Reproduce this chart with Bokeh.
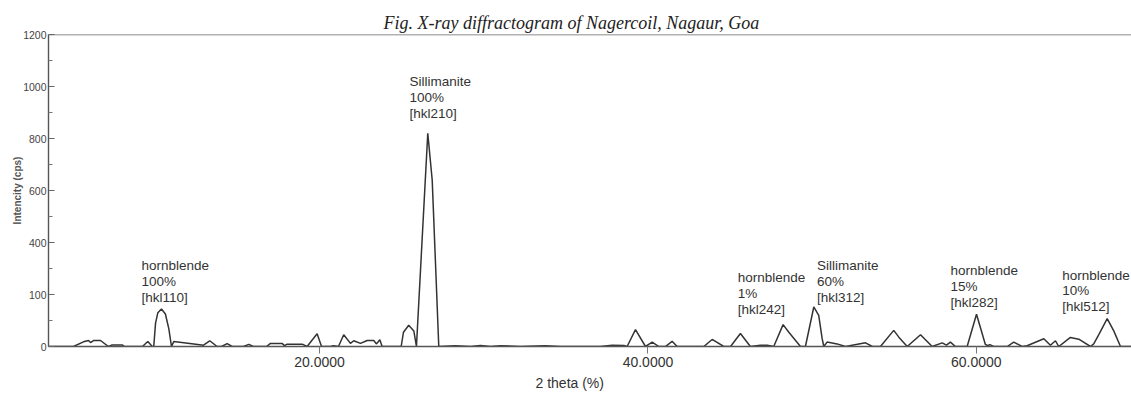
from bokeh.plotting import figure
from bokeh.models import Range1d, Span, Title, FixedTicker, ColumnDataSource
from bokeh.core.properties import value
from bokeh.embed import file_html
from bokeh.resources import INLINE

# ---- data ----
two_theta = [3.49, 5.01, 5.62, 5.93, 6.05, 6.23, 6.66, 7.14, 7.37, 7.98, 8.12, 9.21, 9.54, 9.81,
             9.90, 10.01, 10.15, 10.37, 10.61, 10.82, 10.98, 11.12, 12.34, 12.93, 13.31, 13.76,
             14.03, 14.37, 14.68, 15.37, 15.69, 15.97, 16.77, 17.01, 17.72, 17.86, 18.03, 18.94,
             19.24, 19.85, 20.12, 20.66, 20.85, 21.15, 21.47, 21.88, 22.08, 22.49, 22.90, 23.30,
             23.47, 23.67, 23.81, 24.97, 25.11, 25.43, 25.74, 25.90, 26.59, 26.86, 27.26, 28.28,
             29.19, 29.80, 30.41, 31.02, 32.23, 33.76, 34.67, 37.11, 37.82, 38.53, 38.73, 39.24,
             39.85, 40.26, 40.66, 41.07, 41.47, 41.78, 43.40, 43.91, 44.62, 45.03, 45.63, 46.24,
             46.85, 47.26, 47.66, 48.23, 48.58, 49.29, 49.59, 50.10, 50.40, 50.61, 50.71, 50.91,
             51.52, 52.03, 53.25, 53.67, 54.16, 54.97, 55.28, 55.79, 56.60, 57.31, 57.92, 58.18,
             58.42, 58.73, 59.44, 60.01, 60.55, 60.70, 60.82, 61.06, 61.88, 62.28, 62.79, 63.09,
             64.11, 64.51, 64.82, 65.02, 65.73, 66.24, 66.95, 67.15, 67.45, 67.97, 68.37, 68.78,
             69.45]
intensity = [0, 0, 18, 23, 15, 23, 23, 0, 6, 6, 0, 0, 19, 0,
             0, 90, 130, 144, 125, 68, 0, 19, 10, 5, 22, 0,
             0, 11, 0, 0, 8, 0, 0, 12, 12, 3, 9, 9,
             0, 49, 0, 0, 3, 0, 45, 12, 22, 12, 23, 23,
             10, 26, 0, 0, 55, 82, 60, 0, 820, 640, 0, 3,
             0, 4, 0, 3, 0, 3, 0, 0, 5, 4, 0, 65,
             0, 17, 0, 0, 20, 0, 0, 27, 0, 0, 50, 0,
             5, 5, 0, 84, 55, 0, 0, 152, 120, 30, 0, 17,
             10, 0, 14, 0, 0, 62, 36, 0, 45, 0, 14, 5,
             17, 0, 0, 124, 8, 3, 7, 0, 0, 17, 0, 3,
             30, 5, 22, 0, 35, 28, 0, 10, 45, 107, 60, 0,
             0]

label_x = [9.15, 25.48, 45.47, 50.30, 58.42, 65.23]
label_y = [312, 1021, 267, 311, 293, 275]
label_mineral = ["hornblende", "Sillimanite", "hornblende", "Sillimanite", "hornblende", "hornblende"]
label_pct = ["100%", "100%", "1%", "60%", "15%", "10%"]
label_hkl = ["[hkl110]", "[hkl210]", "[hkl242]", "[hkl312]", "[hkl282]", "[hkl512]"]

x_ticks = [20, 40, 60]
x_tick_labels = ["20.0000", "40.0000", "60.0000"]
y_ticks = [0, 200, 400, 600, 800, 1000, 1200]
y_tick_labels = ["0", "100", "400", "600", "800", "1000", "1200"]
y_minor_ticks = [100, 300, 500, 700, 900, 1100]

title_text = "Fig. X-ray diffractogram of Nagercoil, Nagaur, Goa"
x_title = "2 theta (%)"
y_title = "Intencity (cps)"

# ---- figure ----
p = figure(width=1131, height=400, output_backend="svg", toolbar_location=None,
           x_range=Range1d(3.49, 69.45), y_range=Range1d(0, 1200),
           min_border_left=48, min_border_right=0, min_border_top=34, min_border_bottom=54)
p.outline_line_color = None
p.xgrid.visible = False
p.ygrid.visible = False
p.background_fill_color = "white"
p.border_fill_color = "white"

p.line(two_theta, intensity, line_color="#333333", line_width=1.5)

p.add_layout(Span(location=1200, dimension="width", line_color="#666666", line_width=1.6))

# y axis
ya = p.yaxis[0]
ya.ticker = FixedTicker(ticks=y_ticks, minor_ticks=y_minor_ticks)
ya.major_label_overrides = {t: l for t, l in zip(y_ticks, y_tick_labels)}
ya.major_tick_in = 6
ya.major_tick_out = 0
ya.minor_tick_in = 4
ya.minor_tick_out = 0
ya.axis_line_color = "#555555"
ya.axis_line_width = 1.4
ya.major_tick_line_color = "#666666"
ya.minor_tick_line_color = "#777777"
ya.major_label_text_font = "Liberation Sans"
ya.major_label_text_font_size = "10.5px"
ya.major_label_text_color = "#444444"
ya.major_label_standoff = 2
ya.axis_label = y_title
ya.axis_label_text_font = "Liberation Sans"
ya.axis_label_text_font_size = "10px"
ya.axis_label_text_font_style = "bold"
ya.axis_label_text_color = "#555555"
ya.axis_label_standoff = -3

# x axis
xa = p.xaxis[0]
xa.ticker = FixedTicker(ticks=x_ticks, minor_ticks=[])
xa.major_label_overrides = {t: l for t, l in zip(x_ticks, x_tick_labels)}
xa.major_tick_in = 0
xa.major_tick_out = 7
xa.minor_tick_in = 0
xa.minor_tick_out = 0
xa.axis_line_color = "#555555"
xa.axis_line_width = 1.4
xa.major_tick_line_color = "#777777"
xa.major_label_text_font = "Liberation Sans"
xa.major_label_text_font_size = "14px"
xa.major_label_text_color = "#333333"
xa.major_label_standoff = 3

p.add_layout(Title(text=x_title, align="left", offset=487, standoff=6,
                   text_font="Liberation Sans", text_font_size="14px",
                   text_font_style="normal", text_color="#333333"), "below")

p.add_layout(Title(text=title_text, align="left", offset=335, standoff=4,
                   text_font="Liberation Serif", text_font_style="italic",
                   text_font_size="18px", text_color="#222222"), "above")

# peak annotations
line_step = 61.5
xs, ys, texts = [], [], []
for x0, y0, a, b, c in zip(label_x, label_y, label_mineral, label_pct, label_hkl):
    for i, t in enumerate([a, b, c]):
        xs.append(x0)
        ys.append(y0 - i * line_step)
        texts.append(t)
src = ColumnDataSource(dict(x=xs, y=ys, text=texts))
p.text(x="x", y="y", text="text", source=src, text_font=value("Liberation Sans"),
       text_font_size="13.5px", text_color="#333333", text_align="left",
       text_baseline="middle")

open("out.html", "w").write(file_html(p, INLINE))
